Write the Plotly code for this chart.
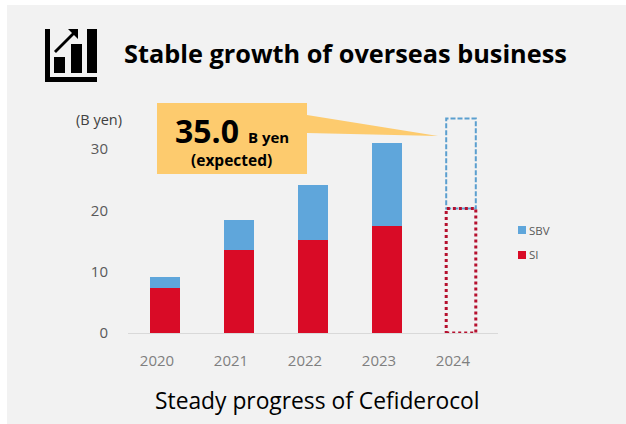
import plotly.graph_objects as go

W, H = 626, 424
years = ["2020", "2021", "2022", "2023", "2024"]
si_actual = [7.3, 13.5, 15.1, 17.5]
sbv_actual = [1.9, 4.9, 9.0, 13.5]
si_forecast = 20.3
total_forecast = 35.0
y_ticks = [0, 10, 20, 30]

BLUE = "#5FA6DB"
RED = "#D90B26"
ORANGE = "#FDCB6E"
BAR_WIDTH = 0.4

# Plot-area placement in pixels
PLOT_L, PLOT_R, PLOT_T, PLOT_B = 128, 498, 100, 333
PX_PER_UNIT = 6.13
y_max = (PLOT_B - PLOT_T) / PX_PER_UNIT


def px(x):
    return x / W


def py(y):
    return 1 - y / H


def paper_path(points):
    return "M" + "L".join(f"{px(x):.5f},{py(y):.5f}" for x, y in points) + "Z"


def paper_shape(points, color):
    return dict(type="path", xref="paper", yref="paper", path=paper_path(points),
                fillcolor=color, line=dict(width=0), layer="above")


def swatch(y, color):
    return paper_shape([(518, y - 4), (526, y - 4), (526, y + 4), (518, y + 4)], color)


fig = go.Figure()
fig.add_bar(x=years[:4], y=si_actual, name="SI", marker=dict(color=RED, line=dict(width=0)), width=BAR_WIDTH)
fig.add_bar(x=years[:4], y=sbv_actual, name="SBV", marker=dict(color=BLUE, line=dict(width=0)), width=BAR_WIDTH)

shapes = [
    # Grey panel behind everything
    dict(type="rect", xref="paper", yref="paper", x0=px(7), x1=1, y0=0, y1=py(5),
         fillcolor="#F2F2F2", line=dict(width=0), layer="below"),
    # Forecast outlines for the final year
    dict(type="rect", xref="x", yref="y", x0=4 - BAR_WIDTH / 2, x1=4 + BAR_WIDTH / 2,
         y0=si_forecast, y1=total_forecast, line=dict(color="#5B9FCF", width=2, dash="5px,2px")),
    dict(type="rect", xref="x", yref="y", x0=4 - BAR_WIDTH / 2, x1=4 + BAR_WIDTH / 2,
         y0=0, y1=si_forecast, line=dict(color="#B5102E", width=3, dash="3px,3px")),
    # Callout box and its pointer
    paper_shape([(157, 103), (307, 103), (307, 115), (438, 136), (307, 133), (307, 174), (157, 174)], ORANGE),
    # Title icon: axes, three columns, arrow
    paper_shape([(45, 29), (50, 29), (50, 77), (97, 77), (97, 82), (45, 82)], "#000000"),
    paper_shape([(54, 57), (65, 57), (65, 73), (54, 73)], "#000000"),
    paper_shape([(71, 44), (82, 44), (82, 73), (71, 73)], "#000000"),
    paper_shape([(87, 29), (97, 29), (97, 73), (87, 73)], "#000000"),
    paper_shape([(54, 51), (72, 33), (68, 29), (78, 29), (78, 39), (74, 35), (56, 53)], "#000000"),
    # Key for the two series
    swatch(230, BLUE),
    swatch(255, RED),
]

FONT = "Open Sans"


def label(x, y, text, size, color="#000000", bold=False, anchor="left"):
    shown = f"<b>{text}</b>" if bold else text
    return dict(xref="paper", yref="paper", x=px(x), y=py(y), text=shown, showarrow=False,
                xanchor=anchor, yanchor="middle", borderpad=0, borderwidth=0,
                font=dict(family=FONT, size=size, color=color))


annotations = [
    label(124, 53, "Stable growth of overseas business", 25.3, bold=True),
    label(99, 119, "(B yen)", 14.5, color="#404040", anchor="center"),
    label(175, 130, "35.0", 32, bold=True),
    label(248, 137, "B yen", 15, bold=True),
    label(231.5, 160, "(expected)", 15.5, bold=True, anchor="center"),
    label(317.5, 400, "Steady progress of Cefiderocol", 22.8, anchor="center"),
    label(529, 230, "SBV", 11.5, color="#595959"),
    label(529, 255, "SI", 11.5, color="#595959"),
]

fig.update_layout(
    width=W, height=H, autosize=False,
    margin=dict(l=0, r=0, t=0, b=0),
    paper_bgcolor="#FFFFFF", plot_bgcolor="rgba(0,0,0,0)",
    barmode="stack", bargap=0.6, showlegend=False,
    font=dict(family=FONT),
    shapes=shapes, annotations=annotations,
    xaxis=dict(domain=[px(PLOT_L), px(PLOT_R)], type="category", categoryorder="array",
               categoryarray=years, tickvals=years, range=[-0.5, 4.5], showgrid=False,
               showline=True, linecolor="#D9D9D9", linewidth=1, ticks="", automargin=False,
               tickfont=dict(size=15, color="#7F7F7F"), ticklabelstandoff=14,
               ticklabelshift=-8, zeroline=False),
    yaxis=dict(domain=[py(PLOT_B), py(PLOT_T)], range=[0, y_max], tickvals=y_ticks,
               showgrid=False, showline=False, zeroline=False, ticks="", automargin=False,
               tickfont=dict(size=15, color="#595959"), ticklabelstandoff=19),
)

fig.write_html("out.html")
